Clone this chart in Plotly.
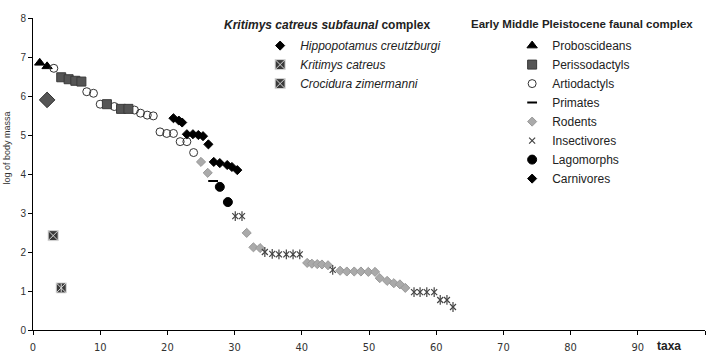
import plotly.graph_objects as go

# ---- Early Middle Pleistocene faunal complex ----
prob_x = [1.0, 2.1]
prob_y = [6.85, 6.76]
peri_x = [4.2, 5.3, 6.3, 7.2, 11.0, 13.1, 14.2]
peri_y = [6.48, 6.43, 6.39, 6.37, 5.79, 5.67, 5.67]
arti_x = [3.1, 8.0, 9.0, 10.0, 12.1, 15.1, 16.0, 17.0, 17.9, 18.9, 19.9, 20.9, 21.9, 22.9, 23.9]
arti_y = [6.71, 6.11, 6.07, 5.79, 5.73, 5.64, 5.56, 5.51, 5.49, 5.08, 5.04, 5.04, 4.83, 4.83, 4.55]
prim_x = [26.8]
prim_y = [3.82]
rode_x = [25.0, 26.0, 31.8, 32.8, 33.8, 40.8, 41.5, 42.3, 43.0, 43.9,
          45.7, 46.7, 47.8, 48.8, 49.9, 50.9, 51.6, 52.7, 53.7, 54.6, 55.4]
rode_y = [4.31, 4.03, 2.49, 2.12, 2.10, 1.72, 1.70, 1.69, 1.68, 1.66,
          1.52, 1.50, 1.50, 1.50, 1.49, 1.49, 1.33, 1.26, 1.20, 1.17, 1.08]
inse_x = [30.1, 31.1, 34.5, 35.6, 36.6, 37.7, 38.7, 39.7, 44.6,
          56.7, 57.6, 58.6, 59.7, 60.6, 61.6, 62.5]
inse_y = [2.92, 2.92, 2.00, 1.95, 1.94, 1.94, 1.94, 1.94, 1.54,
          0.97, 0.97, 0.97, 0.97, 0.77, 0.77, 0.59]
lago_x = [27.8, 29.0]
lago_y = [3.67, 3.28]
carn_x = [20.9, 21.7, 22.2, 22.9, 23.8, 24.6, 25.3, 26.1, 26.9, 27.8, 28.9, 29.6, 30.4]
carn_y = [5.43, 5.37, 5.32, 5.02, 5.02, 5.00, 4.97, 4.76, 4.31, 4.28, 4.23, 4.18, 4.10]

# ---- Kritimys catreus subfaunal complex ----
hipp_x = [2.1]
hipp_y = [5.9]
krit_x = [3.0]
krit_y = [2.42]
croc_x = [4.2]
croc_y = [1.08]

x_ticks = [0, 10, 20, 30, 40, 50, 60, 70, 80, 90, 100]
y_ticks = [0, 1, 2, 3, 4, 5, 6, 7, 8]

BASE = "Liberation Sans, Arial, sans-serif"
NARROW = "Liberation Sans Narrow, DejaVu Sans Condensed, Liberation Sans, sans-serif"

fig = go.Figure()

def add(x, y, name, legend, symbol, size, color, lcolor, lwidth=1, show=True, group=None):
    fig.add_trace(go.Scatter(
        x=x, y=y, mode="markers", name=name, legend=legend, showlegend=show,
        legendgroup=group or name,
        marker=dict(symbol=symbol, size=size, color=color,
                    line=dict(color=lcolor, width=lwidth)),
        hoverinfo="x+y+name"))

# Kritimys subfaunal complex (legend 1)
HIPPO = "<i>Hippopotamus creutzburgi</i>"
add(hipp_x, hipp_y, HIPPO, "legend", "diamond", 12, "#555555", "#333333", show=False, group=HIPPO)
# legend-only entry with the small black diamond used in the key
add([None], [None], HIPPO, "legend", "diamond", 7, "black", "black", group=HIPPO)
add(krit_x, krit_y, "<i>Kritimys catreus</i>", "legend", "square-x", 10, "#3a3a3a", "#d8d8d8")
add(croc_x, croc_y, "<i>Crocidura zimermanni</i>", "legend", "square-x", 10, "#3a3a3a", "#d8d8d8")
add(croc_x, croc_y, "croc_bar", "legend", "line-ns-open", 6, "#d8d8d8", "#d8d8d8",
    show=False, group="<i>Crocidura zimermanni</i>")

# Early Middle Pleistocene faunal complex (legend 2)
add(prob_x, prob_y, "Proboscideans", "legend2", "triangle-up", 9, "black", "black")
add(arti_x, arti_y, "Artiodactyls", "legend2", "circle-open", 8, "#333333", "#333333", 1)
add(peri_x, peri_y, "Perissodactyls", "legend2", "square", 9, "#555555", "#3a3a3a")
add(prim_x, prim_y, "Primates", "legend2", "line-ew-open", 7, "black", "black", 2)
add(rode_x, rode_y, "Rodents", "legend2", "diamond", 7, "#aaaaaa", "#999999")
add(inse_x, inse_y, "Insectivores", "legend2", "x-thin-open", 6, "#444444", "#444444", 1.2)
add(inse_x, inse_y, "inse_bar", "legend2", "line-ns-open", 7, "#444444", "#444444", 1.2,
    show=False, group="Insectivores")
add(lago_x, lago_y, "Lagomorphs", "legend2", "circle", 9, "black", "black")
add(carn_x, carn_y, "Carnivores", "legend2", "diamond", 7, "black", "black")

# legend order
order = {"Proboscideans": 1, "Perissodactyls": 2, "Artiodactyls": 3, "Primates": 4,
         "Rodents": 5, "Insectivores": 6, "Lagomorphs": 7, "Carnivores": 8}
for tr in fig.data:
    if tr.name in order:
        tr.legendrank = order[tr.name]

axis_common = dict(showline=True, linecolor="black", linewidth=1, ticks="outside",
                   ticklen=4, tickcolor="black", showgrid=False, zeroline=False,
                   fixedrange=True, automargin=False)

fig.update_layout(
    width=712, height=353,
    margin=dict(l=33, r=7, t=18, b=23),
    paper_bgcolor="white", plot_bgcolor="white",
    font=dict(family=BASE, color="#222222", size=12),
    showlegend=True,
    xaxis=dict(range=[0, 100], tickvals=x_ticks, ticktext=[str(v) for v in x_ticks],
               ticklabelstandoff=3,
               tickfont=dict(family=NARROW, size=11, color="#333333"), **axis_common),
    yaxis=dict(range=[0, 8], tickvals=y_ticks, ticktext=[str(v) for v in y_ticks],
               tickfont=dict(family=BASE, size=10, color="#333333"), **axis_common),
    legend=dict(x=0.338, y=0.958, xanchor="left", yanchor="top",
                bgcolor="rgba(0,0,0,0)", font=dict(size=12, color="#222222"),
                tracegroupgap=0, itemwidth=30, itemclick=False, itemdoubleclick=False),
    legend2=dict(x=0.713, y=0.958, xanchor="left", yanchor="top",
                 bgcolor="rgba(0,0,0,0)", font=dict(size=12, color="#222222"),
                 tracegroupgap=0, itemwidth=30, traceorder="normal",
                 itemclick=False, itemdoubleclick=False),
    annotations=[
        dict(text="<b><i>Kritimys catreus subfaunal</i> complex</b>", xref="paper", yref="paper",
             x=0.4368, y=0.9776, xanchor="center", yanchor="middle", showarrow=False,
             font=dict(size=12, color="#222222")),
        dict(text="<b>Early Middle Pleistocene faunal complex</b>", xref="paper", yref="paper",
             x=0.817, y=0.981, xanchor="center", yanchor="middle", showarrow=False,
             font=dict(size=11.5, color="#222222")),
        dict(text="<b>taxa</b>", xref="x", yref="paper", x=94.6, y=-0.05,
             xanchor="center", yanchor="middle", showarrow=False,
             font=dict(size=12, color="#222222")),
        dict(text="log of body massa", xref="paper", yref="paper", x=-0.038, y=0.583,
             xanchor="center", yanchor="middle", textangle=-90, showarrow=False,
             font=dict(size=9, color="#333333")),
    ],
)

fig.write_html("out.html")
